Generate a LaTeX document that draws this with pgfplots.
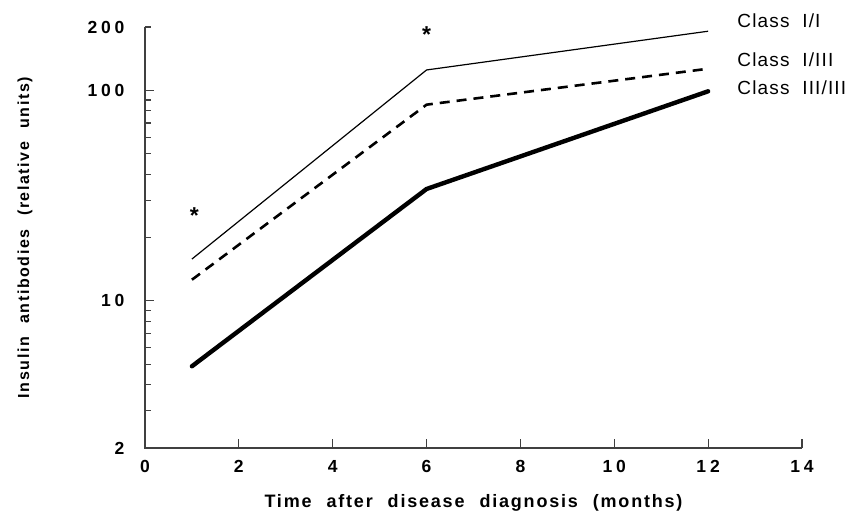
\documentclass[border=0pt]{standalone}
\usepackage{fontspec}
\setmainfont{Liberation Sans}
\newfontfamily\bsp[LetterSpace=10,WordSpace=2.2]{Liberation Sans}
\newfontfamily\tsp[LetterSpace=22]{Liberation Sans}
\newfontfamily\csp[LetterSpace=6]{Liberation Sans}
\usepackage{pgfplots}
\pgfplotsset{compat=1.18}
\begin{document}
\begin{tikzpicture}
\path[use as bounding box] (-145pt,-68pt) rectangle (716pt,448pt);
\begin{axis}[
  at={(0,0)}, anchor=south west,
  scale only axis,
  width=657pt, height=421pt,
  ymode=log,
  xmin=0, xmax=14, ymin=2, ymax=200,
  axis line style={draw=none},
  tick style={line width=1.1pt, black!75},
  tick align=inside,
  xtick pos=left, ytick pos=left,
  major tick length=9pt, minor tick length=6pt,
  xtick={0,2,...,14},
  ytick={2,10,100}, yticklabels={2,10,100},
  minor ytick={3,4,5,6,7,8,9,20,30,40,50,60,70,80,90},
  extra y ticks={200}, extra y tick labels={200},
  extra y tick style={major tick length=6pt},
  /pgf/number format/assume math mode=true,
  tick label style={font=\tsp\bfseries\fontsize{17.5}{20}\selectfont},
  yticklabel style={xshift=-17pt},
  xticklabel style={yshift=-9pt},
  xlabel={Time after disease diagnosis (months)},
  ylabel={Insulin antibodies (relative units)},
  xlabel style={font=\bsp\bfseries\fontsize{18}{21}\selectfont,
    at={(axis description cs:0.5,0)}, anchor=north, yshift=-43pt},
  ylabel style={font=\bsp\bfseries\fontsize{16}{19}\selectfont,
    at={(axis description cs:0,0.5)}, anchor=south, yshift=109pt},
  clip=false,
]
\draw[black!75, line width=1.3pt] (rel axis cs:0,1) -- (rel axis cs:0,0) -- (rel axis cs:1,0);
\addplot[black, line width=1.2pt] coordinates {(1,15.8) (6,125) (12,191)};
\addplot[black, line width=2.6pt, dash pattern=on 10pt off 7pt] coordinates {(1,12.6) (6,85.5) (12,126.7)};
\addplot[black, line width=4.4pt, line cap=round] coordinates {(1,4.89) (6,34) (12,99)};
\node[anchor=west, font=\csp\fontsize{19}{22}\selectfont] at (axis cs:12.55,215) {Class\ \ I/I};
\node[anchor=west, font=\csp\fontsize{19}{22}\selectfont] at (axis cs:12.55,140) {Class\ \ I/III};
\node[anchor=west, font=\csp\fontsize{19}{22}\selectfont] at (axis cs:12.55,102.8) {Class\ \ III/III};
\node[font=\bfseries\fontsize{23}{25}\selectfont] at (axis cs:1.05,25.3) {*};
\node[font=\bfseries\fontsize{23}{25}\selectfont] at (axis cs:6,184) {*};
\end{axis}
\end{tikzpicture}
\end{document}
